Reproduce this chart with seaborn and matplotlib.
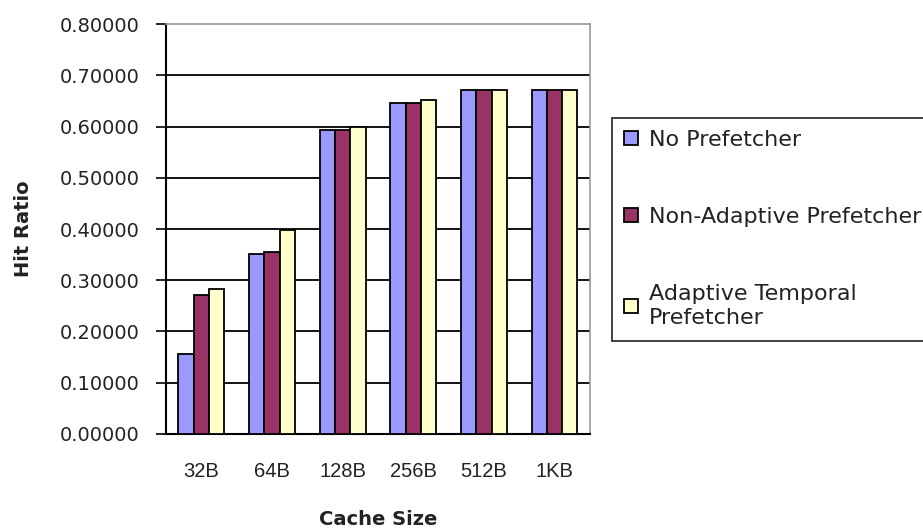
# %%
# Cache hit ratio by prefetcher type
import pandas as pd
import numpy as np
import matplotlib
matplotlib.use("Agg")
import matplotlib.pyplot as plt
import seaborn as sns

# %%
# Data
cache_sizes = ["32B", "64B", "128B", "256B", "512B", "1KB"]
no_prefetch = [0.157, 0.352, 0.593, 0.646, 0.671, 0.671]
non_adaptive = [0.271, 0.356, 0.593, 0.646, 0.671, 0.671]
adaptive_temporal = [0.282, 0.398, 0.600, 0.652, 0.671, 0.671]
series_names = ["No Prefetcher", "Non-Adaptive Prefetcher", "Adaptive Temporal\nPrefetcher"]
y_ticks = [0.0, 0.1, 0.2, 0.3, 0.4, 0.5, 0.6, 0.7, 0.8]

data = pd.DataFrame({
    "Cache Size": cache_sizes * 3,
    "Hit Ratio": no_prefetch + non_adaptive + adaptive_temporal,
    "Prefetcher": [series_names[0]] * 6 + [series_names[1]] * 6 + [series_names[2]] * 6,
})

# %%
sns.set_style("white")
plt.rcParams["font.family"] = ["Liberation Sans", "DejaVu Sans"]
text_col = "#222222"

fig = plt.figure(figsize=(9.23, 5.29), dpi=100)
ax = fig.add_axes([0.180, 0.1796, 0.459, 0.775])

palette = ["#9999FF", "#993366", "#FFFFCC"]
sns.barplot(data=data, x="Cache Size", y="Hit Ratio", hue="Prefetcher",
            palette=palette, width=0.65, edgecolor="black", linewidth=1.3,
            saturation=1, ax=ax, zorder=3)

ax.set_ylim(0, 0.8)
ax.set_xlim(-0.5, 5.5)
ax.set_yticks(y_ticks)
ax.set_yticklabels([f"{v:.5f}" for v in y_ticks], family="DejaVu Sans")
for v in y_ticks[1:-1]:
    ax.axhline(v, color="black", lw=1.3, zorder=1)

# tick marks between groups, labels centered
ax.set_xticks(np.arange(-0.5, 6, 1), minor=True)
ax.tick_params(axis="x", which="major", length=0, pad=20, labelsize=14.5, labelcolor=text_col)
ax.tick_params(axis="x", which="minor", length=8, width=1.2, color="black")
ax.tick_params(axis="y", length=7, width=1.2, color="black", left=True, pad=12,
               labelsize=14, labelcolor=text_col)

for side in ["top", "right"]:
    ax.spines[side].set_color("#999999")
    ax.spines[side].set_linewidth(1.2)
for side in ["left", "bottom"]:
    ax.spines[side].set_color("black")
    ax.spines[side].set_linewidth(1.5)

ax.set_xlabel("Cache Size", fontsize=14, fontweight="bold", family="DejaVu Sans",
              color=text_col)
ax.set_ylabel("Hit Ratio", fontsize=14, fontweight="bold", family="DejaVu Sans",
              color=text_col)
ax.xaxis.set_label_coords(0.5, -0.185)
ax.yaxis.set_label_coords(-0.314, 0.5)

handles, labels = ax.get_legend_handles_labels()
leg = ax.legend(handles, labels, loc="upper left", bbox_to_anchor=(612 / 923, 1 - 118 / 529),
                bbox_transform=fig.transFigure, frameon=True,
                prop={"family": "DejaVu Sans", "size": 16},
                fancybox=False, edgecolor="black", labelspacing=2.55,
                handlelength=0.6, handleheight=0.6, handletextpad=0.5,
                borderpad=0.55, borderaxespad=0)
leg.get_frame().set_linewidth(1.3)
for t in leg.get_texts():
    t.set_color(text_col)
    t.set_linespacing(1.3)

fig.savefig("out.png", dpi=100)
